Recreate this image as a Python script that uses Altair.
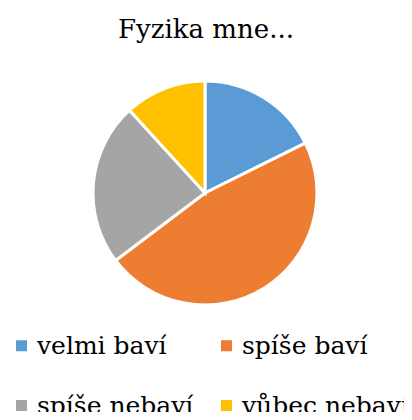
import altair as alt
import pandas as pd

categories = ["velmi baví", "spíše baví", "spíše nebaví", "vůbec nebaví"]
counts = [6, 16, 8, 4]
colors = ["#5B9BD5", "#ED7D31", "#A5A5A5", "#FFC000"]

df = pd.DataFrame({"kategorie": categories, "pocet": counts, "poradi": list(range(len(categories)))})

FONT = "DejaVu Serif"

chart = (
    alt.Chart(df)
    .mark_arc(outerRadius=112, stroke="white", strokeWidth=3)
    .encode(
        theta=alt.Theta("pocet:Q", stack=True),
        order=alt.Order("poradi:Q"),
        x=alt.value(197),
        y=alt.value(135),
        color=alt.Color(
            "kategorie:N",
            scale=alt.Scale(domain=categories, range=colors),
            sort=categories,
            legend=alt.Legend(
                title=None,
                orient="none",
                legendX=1,
                legendY=275,
                padding=0,
                columns=2,
                direction="horizontal",
                symbolType="square",
                symbolSize=121,
                symbolStrokeWidth=0,
                labelFont=FONT,
                labelFontSize=25,
                labelColor="black",
                labelOffset=3,
                columnPadding=20,
                rowPadding=34,
                labelLimit=300,
            ),
        ),
        tooltip=["kategorie", "pocet"],
    )
    .properties(
        width=396,
        height=354,
        padding={"top": 50, "left": 0, "right": 0, "bottom": 0},
        autosize=alt.AutoSizeParams(type="none"),
        title=alt.TitleParams(
            "Fyzika mne...",
            font=FONT,
            fontSize=26,
            fontWeight="normal",
            color="black",
            anchor="middle",
            offset=15,
        ),
    )
    .configure_view(stroke=None)
)

chart.save("out.html", embed_options={"renderer": "svg", "actions": False})
